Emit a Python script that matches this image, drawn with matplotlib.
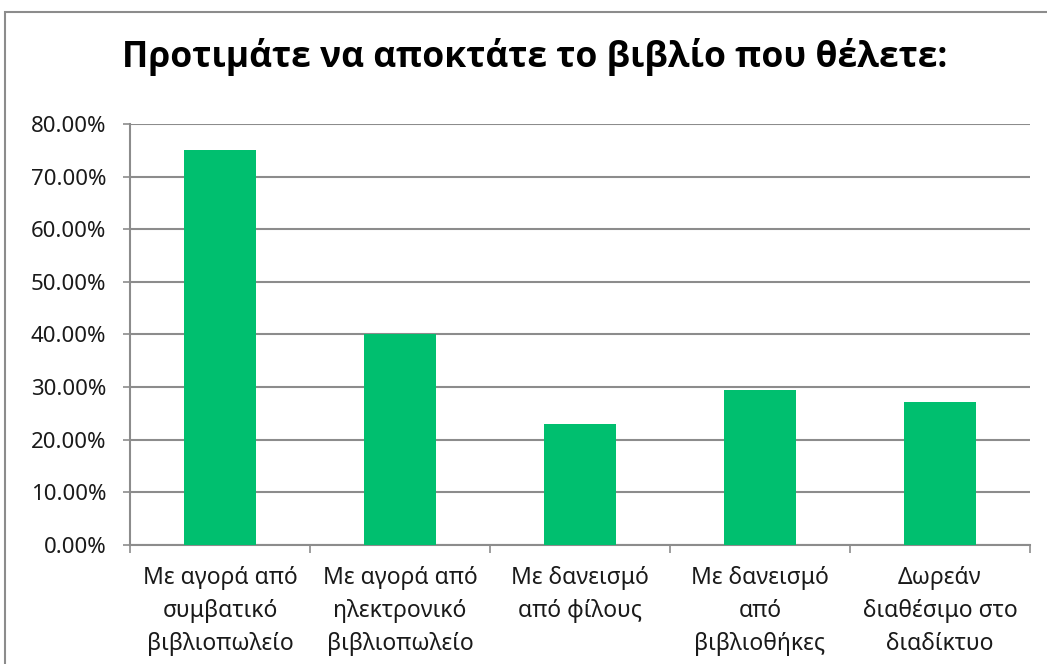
import matplotlib
matplotlib.use("Agg")
import matplotlib.pyplot as plt
import matplotlib.patches as mpatches
from matplotlib.ticker import FuncFormatter, MultipleLocator
import numpy as np

# Data
categories = [
    "Με αγορά από\nσυμβατικό\nβιβλιοπωλείο",
    "Με αγορά από\nηλεκτρονικό\nβιβλιοπωλείο",
    "Με δανεισμό\nαπό φίλους",
    "Με δανεισμό\nαπό\nβιβλιοθήκες",
    "Δωρεάν\nδιαθέσιμο στο\nδιαδίκτυο",
]
values = [75.0, 40.0, 23.0, 29.5, 27.2]
title = "Προτιμάτε να αποκτάτε το βιβλίο που θέλετε:"

plt.rcParams["font.family"] = ["Noto Sans", "DejaVu Sans"]

fig = plt.figure(figsize=(10.47, 6.64), dpi=100)
ax = fig.add_axes([0.1242, 0.1792, 0.8596, 0.6341])

# outer chart border (top + left visible, rest cropped)
border = mpatches.Rectangle((5 / 1047, -0.1), 1.2, 1 - 12 / 664 + 0.1,
                            transform=fig.transFigure, fill=False,
                            edgecolor="#8c8c8c", lw=1.5, clip_on=False)
fig.patches.append(border)

x = np.arange(len(categories))
ax.bar(x, values, width=0.4, color="#00bf6f", zorder=3)

ax.set_xlim(-0.5, len(categories) - 0.5)
ax.set_ylim(0, 80)
ax.yaxis.set_major_locator(MultipleLocator(10))
ax.yaxis.set_major_formatter(FuncFormatter(lambda v, _: f"{v:.2f}%"))
ax.grid(axis="y", color="#8c8c8c", lw=1.5, zorder=0)

ax.set_xticks(x)
ax.set_xticklabels(categories, fontsize=16.5, color="#1a1a1a", linespacing=1.5)
ax.set_xticks(np.arange(len(categories) + 1) - 0.5, minor=True)
ax.tick_params(axis="x", which="major", length=0, pad=15)
ax.tick_params(axis="x", which="minor", length=6, width=1.2, color="#8c8c8c")
ax.tick_params(axis="y", length=5, width=1.2, color="#8c8c8c", labelsize=16,
               labelcolor="#1a1a1a", pad=12)

for side in ["top", "right"]:
    ax.spines[side].set_visible(False)
for side in ["left", "bottom"]:
    ax.spines[side].set_color("#8c8c8c")
    ax.spines[side].set_linewidth(1.5)

fig.text(535 / 1047, 1 - 57 / 664, title, ha="center", va="center",
         fontsize=25.5, fontweight="bold", color="#000000",
         family=["Open Sans", "DejaVu Sans"])

fig.savefig("out.png", dpi=100)
